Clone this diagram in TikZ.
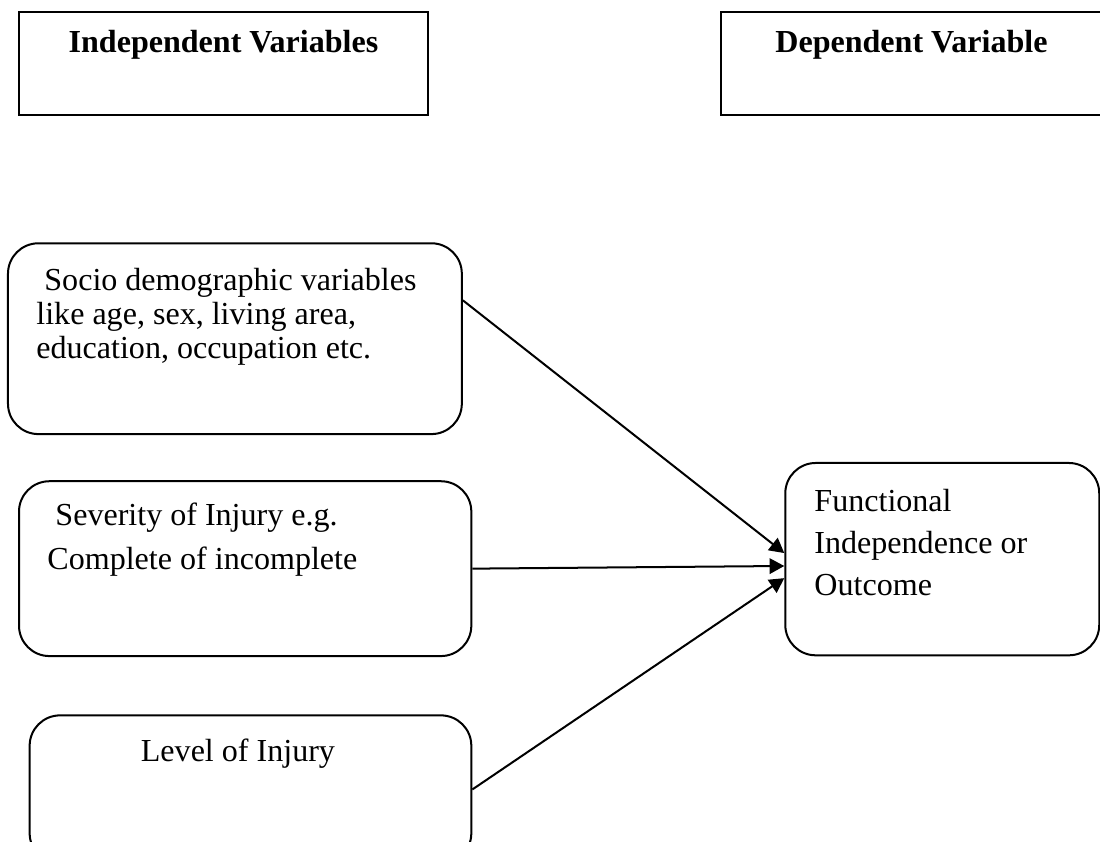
\documentclass[tikz,border=0pt]{standalone}
\usepackage{fontspec}
\setmainfont{Liberation Serif}
\usetikzlibrary{arrows.meta}

\begin{document}
\begin{tikzpicture}[
		headbox/.style={draw, line width=0.75pt, inner sep=0pt, minimum height=1.35cm},
		varbox/.style={draw, line width=0.75pt, rounded corners=0.4cm, inner sep=0pt},
		headtext/.style={font=\bfseries\fontsize{12}{14}\selectfont, inner sep=0pt, anchor=base},
		boxtext/.style={font=\fontsize{12}{#1}\selectfont, inner sep=0pt, text width=5.6cm, align=flush left, anchor=base west},
		link/.style={line width=0.75pt, -{Triangle[length=5.5pt,width=5.8pt]}}
	]
		%%%%% START %%%%%
		\useasboundingbox (0,0) rectangle (14.47,-11.07);
		
		\node[headbox, minimum width=5.38cm] (indep) at (2.94,-0.835) {};
		\node[headtext] (indeplabel) at ([yshift=-0.54cm]indep.north) {Independent Variables};
		
		\node[headbox, minimum width=5.01cm] (dep) at (11.99,-0.835) {};
		\node[headtext] (deplabel) at ([yshift=-0.54cm]dep.north) {Dependent Variable};
		
		\node[varbox, minimum width=5.97cm, minimum height=2.51cm] (socio) at (3.09,-4.455) {};
		\node[boxtext=12.6pt] (sociotext) at ([shift={(0.38,-0.64)}]socio.north west)
			{\ Socio demographic variables\\like age, sex, living area,\\education, occupation etc.};
		
		\node[varbox, minimum width=5.95cm, minimum height=2.30cm] (severity) at (3.225,-7.48) {};
		\node[boxtext=16.5pt] (severitytext) at ([shift={(0.38,-0.60)}]severity.north west)
			{\ Severity of Injury e.g.\\Complete of incomplete};
		
		\node[varbox, minimum width=5.81cm, minimum height=1.95cm] (level) at (3.295,-10.385) {};
		\node[font=\fontsize{12}{14}\selectfont, inner sep=0pt, anchor=base] (leveltext) at ([shift={(-0.165,-0.62)}]level.north) {Level of Injury};
		
		\node[varbox, minimum width=4.13cm, minimum height=2.53cm] (outcome) at (12.395,-7.355) {};
		\node[boxtext=15.7pt] (outcometext) at ([shift={(0.39,-0.65)}]outcome.north west)
			{Functional\\Independence or\\Outcome};
		
		\draw[link] ([yshift=0.505cm]socio.east) -- ([yshift=0.08cm]outcome.west);
		\draw[link] (severity.east) -- ([yshift=-0.09cm]outcome.west);
		\draw[link] (level.east) -- ([yshift=-0.25cm]outcome.west);
		%%%%% END %%%%%
	\end{tikzpicture}
\end{document}
